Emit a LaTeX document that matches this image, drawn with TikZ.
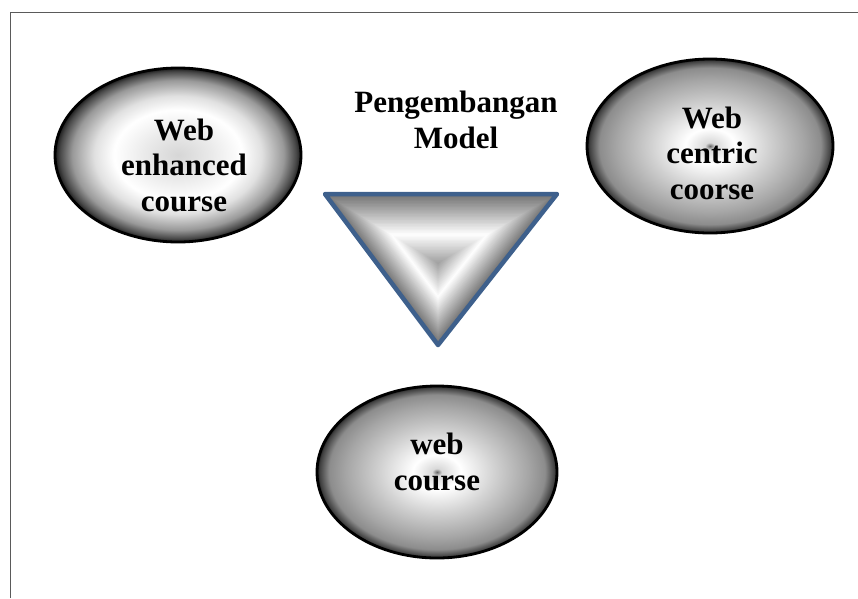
\documentclass[tikz,border=0pt]{standalone}
\usepackage{fontspec}
\setmainfont{Liberation Serif}
\usetikzlibrary{calc,positioning,shapes.geometric}

\definecolor{triedgecol}{RGB}{62,96,140}
\definecolor{framecol}{RGB}{90,90,90}

% shading of the ovals (25bp = rim)
\pgfdeclareradialshading{ovalpale}{\pgfpoint{0bp}{0bp}}{%
  color(0bp)=(black!16); color(7bp)=(black!8); color(13bp)=(white);
  color(17bp)=(black!12); color(21.5bp)=(black!40); color(24bp)=(black!72);
  color(25bp)=(black!90); color(50bp)=(black)}
\pgfdeclareradialshading{ovaldark}{\pgfpoint{0bp}{0bp}}{%
  color(0bp)=(black!60); color(1bp)=(black!15); color(5bp)=(white);
  color(12bp)=(black!18); color(19bp)=(black!35); color(22.5bp)=(black!45);
  color(24.5bp)=(black!75); color(25bp)=(black!90); color(50bp)=(black)}

\begin{document}
\begin{tikzpicture}[
  x=1pt, y=-1pt,
  font=\fontsize{31}{35.5}\selectfont\bfseries,
  oval/.style={ellipse, draw=black, line width=2.8pt, shading=#1,
               minimum width=246pt, minimum height=174pt, inner sep=0pt},
  txt/.style={align=center, text=black, inner sep=0pt},
  triedge/.style={draw=triedgecol, line width=4.5pt, line join=round},
  frame/.style={draw=framecol, line width=1pt}
]
\useasboundingbox (0,0) rectangle (858,598);
% ── frame ────────────────────────────────────────────────────────────────────
\draw[frame] (10,598) -- (10,12) -- (858,12);

% ── ovals ────────────────────────────────────────────────────────────────────
\node[oval=ovalpale] (enhanced) at (178,155) {};
\node[oval=ovaldark] (centric)  at (710,146) {};
\node[oval=ovaldark, minimum width=240pt, minimum height=172pt] (webcourse) at (437,472) {};

\node[txt, xshift=6pt, yshift=-10pt] (enhancedtxt) at (enhanced) {Web\\enhanced\\course};
\node[txt, xshift=2pt, yshift=-7pt] (centrictxt) at (centric) {Web\\centric\\coorse};
\node[txt, yshift=10pt] (webcoursetxt) at (webcourse) {web\\course};

% ── title ────────────────────────────────────────────────────────────────────
\node[txt] (title) at (456,120) {Pengembangan\\Model};

% ── triangle ─────────────────────────────────────────────────────────────────
\coordinate (tA) at (325,194);
\coordinate (tB) at (557,194);
\coordinate (tC) at (438,345);
\coordinate (tO) at (438,263);
\foreach \i in {0,...,48}{
  \pgfmathsetmacro\s{1-\i/48}
  \pgfmathsetmacro\c{(\s>=0.42) ? (45+55*(1-\s)/0.58) : (62+38*\s/0.42)}
  \fill[white!\c!black] ($(tO)!\s!(tA)$) -- ($(tO)!\s!(tB)$) -- ($(tO)!\s!(tC)$) -- cycle;
}
\draw[triedge] (tA) -- (tB) -- (tC) -- cycle;
\end{tikzpicture}
\end{document}
